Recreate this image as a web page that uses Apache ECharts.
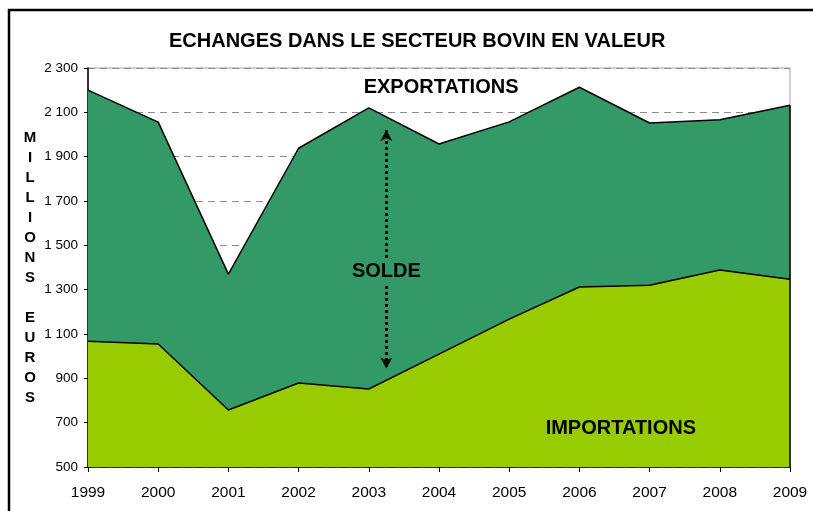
<!DOCTYPE html>
<html>
<head>
<meta charset="utf-8">
<script src="https://cdn.jsdelivr.net/npm/echarts@6/dist/echarts.min.js"></script>
<style>
  html, body { margin: 0; padding: 0; background: #fff; }
  #main { width: 813px; height: 511px; }
</style>
</head>
<body>
<div id="main"></div>
<script>
  // années
  var years = [1999, 2000, 2001, 2002, 2003, 2004, 2005, 2006, 2007, 2008, 2009];
  // exportations (millions d'euros)
  var exportations = [2200, 2056, 1370, 1938, 2120, 1957, 2057, 2213, 2052, 2067, 2132];
  // importations (millions d'euros)
  var importations = [1067, 1055, 757, 879, 852, 1009, 1167, 1312, 1320, 1389, 1347];

  var yMin = 500, yMax = 2300, yStep = 200;

  function pairs(vals) {
    return years.map(function (y, i) { return [y, vals[i]]; });
  }

  var lbl = {
    fontFamily: 'Liberation Sans',
    fontWeight: 'bold',
    fontSize: 20,
    color: '#000'
  };

  var myChart = echarts.init(document.getElementById('main'));
  var option = {
    animation: false,
    backgroundColor: '#fff',
    title: {
      text: 'ECHANGES DANS LE SECTEUR BOVIN EN VALEUR',
      left: 164,
      top: 26,
      textStyle: { fontFamily: 'Liberation Sans', fontWeight: 'bold', fontSize: 20, color: '#000' }
    },
    graphic: [
      {
        type: 'rect',
        shape: { x: 9, y: 10, width: 900, height: 600 },
        style: { fill: 'none', stroke: '#000', lineWidth: 2.5 }
      },
      {
        type: 'text',
        x: 30, y: 268,
        style: {
          text: 'M\nI\nL\nL\nI\nO\nN\nS\n\nE\nU\nR\nO\nS',
          align: 'center', verticalAlign: 'middle',
          lineHeight: 20,
          font: 'bold 15px "Liberation Sans"',
          fill: '#000'
        }
      }
    ],
    grid: {
      left: 88, right: 23, top: 68, bottom: 44,
      show: true, borderColor: '#a0a0a0', borderWidth: 1
    },
    xAxis: {
      type: 'value',
      min: 1999, max: 2009, interval: 1,
      axisLine: { show: true, lineStyle: { color: '#000', width: 1.5 } },
      axisTick: { show: true, length: 5, lineStyle: { color: '#000' } },
      axisLabel: {
        margin: 18, color: '#000', fontFamily: 'Liberation Sans', fontSize: 15.5,
        formatter: function (v) { return String(v); }
      },
      splitLine: { show: false }
    },
    yAxis: {
      type: 'value',
      min: yMin, max: yMax, interval: yStep,
      axisLine: { show: true, lineStyle: { color: '#000', width: 1.5 } },
      axisTick: { show: true, length: 4, lineStyle: { color: '#000' } },
      axisLabel: {
        margin: 10, color: '#000', fontFamily: 'Liberation Sans', fontSize: 13.5,
        formatter: function (v) { return String(v).replace(/\B(?=(\d{3})+(?!\d))/g, ' '); }
      },
      splitLine: { show: true, lineStyle: { color: '#8c8c8c', type: [7, 5], width: 1 } }
    },
    series: [
      {
        name: 'Exportations',
        type: 'line',
        data: pairs(exportations),
        symbol: 'none',
        lineStyle: { color: '#000', width: 1.5 },
        areaStyle: { color: '#339966', opacity: 1, origin: 'start' },
        markPoint: {
          symbolSize: 0,
          silent: true,
          data: [
            { coord: [2004.03, 2214], label: Object.assign({ show: true, formatter: 'EXPORTATIONS' }, lbl) },
            { coord: [2003.25, 1380], label: Object.assign({ show: true, formatter: 'SOLDE' }, lbl) }
          ]
        },
        markLine: {
          silent: true,
          label: { show: false },
          symbol: ['none', 'arrow'],
          symbolSize: [9, 11],
          lineStyle: { color: '#000', type: 'dotted', width: 3 },
          data: [
            [{ coord: [2003.25, 1443] }, { coord: [2003.25, 2020] }],
            [{ coord: [2003.25, 1317] }, { coord: [2003.25, 944] }]
          ]
        },
        z: 2
      },
      {
        name: 'Importations',
        type: 'line',
        data: pairs(importations),
        symbol: 'none',
        lineStyle: { color: '#000', width: 1.5 },
        areaStyle: { color: '#99cc00', opacity: 1, origin: 'start' },
        markPoint: {
          symbolSize: 0,
          silent: true,
          data: [
            { coord: [2006.59, 676], label: Object.assign({ show: true, formatter: 'IMPORTATIONS' }, lbl) }
          ]
        },
        markLine: {
          silent: true,
          label: { show: false },
          symbol: ['none', 'none'],
          lineStyle: { color: '#000', type: 'solid', width: 1.5 },
          data: [
            [{ coord: [2009, yMin] }, { coord: [2009, exportations[exportations.length - 1]] }]
          ]
        },
        z: 3
      }
    ]
  };
  myChart.setOption(option);
</script>
</body>
</html>
